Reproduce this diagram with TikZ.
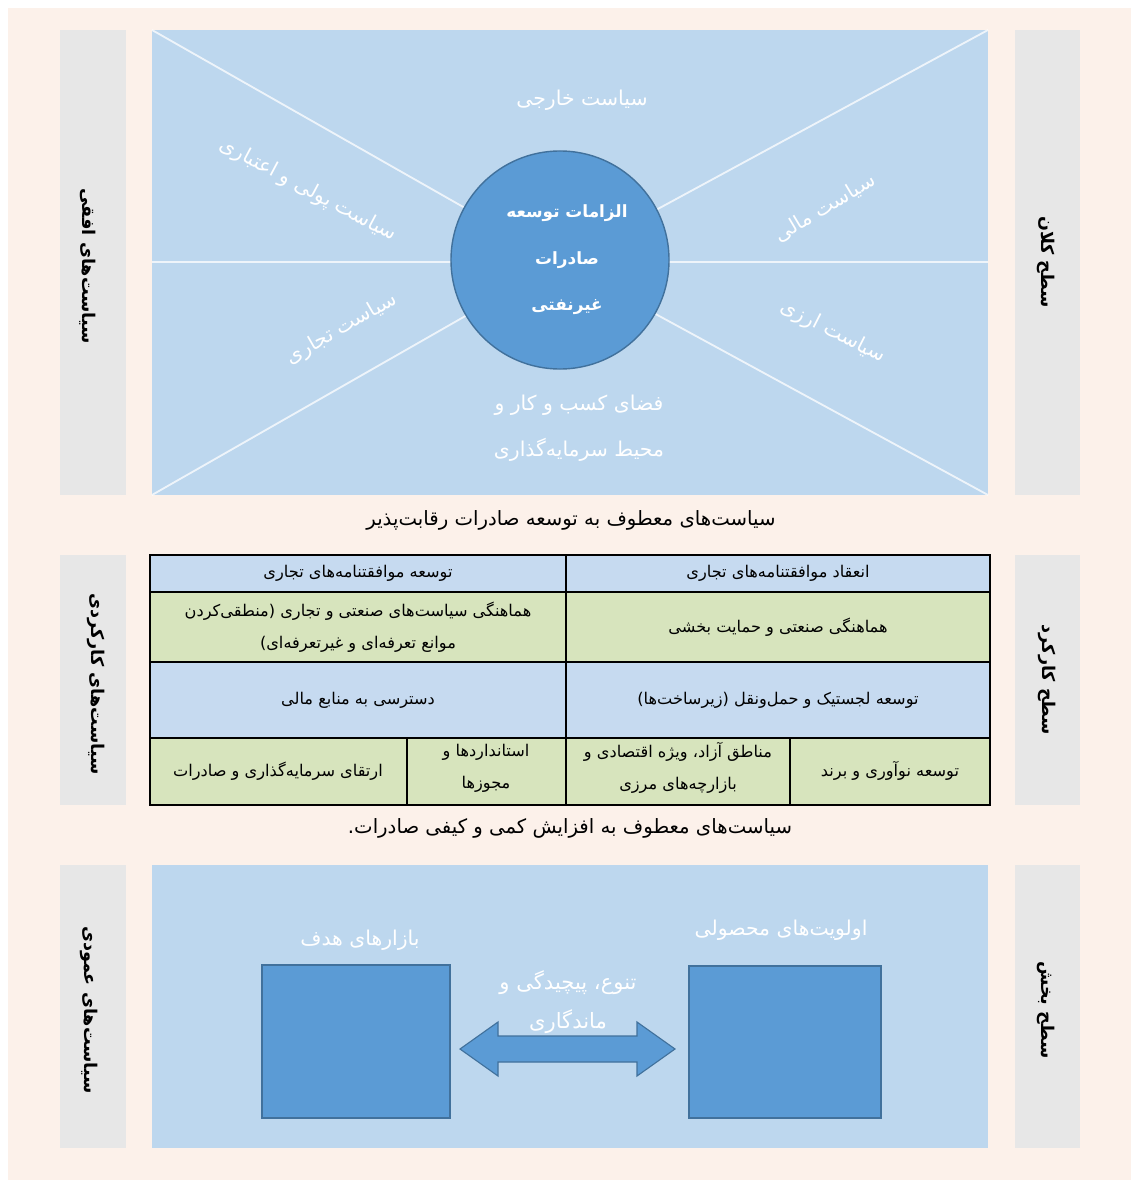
\documentclass[tikz,border=0pt]{standalone}
\usepackage{fontspec}
\newfontfamily\fa[Script=Arabic]{DejaVu Sans}
\TeXXeTstate=1
\usepackage{tikz}
\usetikzlibrary{positioning}
\definecolor{pagebg}{HTML}{FCF1EA}
\definecolor{greybar}{HTML}{E7E7E7}
\definecolor{panel}{HTML}{BDD7EE}
\definecolor{circblue}{HTML}{5B9BD5}
\definecolor{circedge}{HTML}{41719C}
\definecolor{tblue}{HTML}{C6DAF0}
\definecolor{tgreen}{HTML}{D7E4BD}

\begin{document}
\begin{tikzpicture}[x=0.025cm,y=-0.025cm, every node/.style={font=\fa},
  sidetxt/.style={rotate=-90, font=\fa\bfseries\fontsize{12.5}{14}\selectfont},
  ray/.style={white, line width=1.3pt, opacity=0.75},
  pol/.style={text=white, align=center, font=\fa\fontsize{14.5}{33}\selectfont},
  celltxt/.style={align=center, font=\fa\fontsize{11.5}{23}\selectfont},
  captxt/.style={font=\fa\fontsize{14}{16}\selectfont},
  bluebox/.style={draw=circedge, fill=circblue, line width=1pt, inner sep=0pt}]
  \useasboundingbox (0,0) rectangle (1139,1188);
  \fill[white] (0,0) rectangle (1139,1188);
  \fill[pagebg] (8,8) rectangle (1131,1180);

  % macro level
  \fill[greybar] (60,30) rectangle (126,495);
  \fill[greybar] (1015,30) rectangle (1080,495);
  \fill[panel] (152,30) rectangle (988,495);
  \coordinate (tl) at (152,30);
  \coordinate (tr) at (988,30);
  \coordinate (bl) at (152,495);
  \coordinate (br) at (988,495);
  \coordinate (ml) at (152,262);
  \coordinate (mr) at (988,262);
  \coordinate (mid) at (560,262);
  \draw[ray] (tl) -- (mid) -- (br);
  \draw[ray] (tr) -- (mid) -- (bl);
  \draw[ray] (ml) -- (mr);
  \node[bluebox, circle, minimum size=5.45cm] (core) at (560,260) {};
  \node[pol, font=\fa\bfseries\fontsize{12}{33}\selectfont] (coretxt) at (567,260)
    {\beginR الزامات توسعه\endR\\\beginR صادرات\endR\\\beginR غیرنفتی\endR};
  \node[pol] (foreign) at (582,100) {\beginR سیاست خارجی\endR};
  \node[pol, rotate=-28] (money) at (308,190) {\beginR سیاست پولی و اعتباری\endR};
  \node[pol, rotate=31] (fiscal) at (825,208) {\beginR سیاست مالی\endR};
  \node[pol, rotate=30] (trade) at (342,329) {\beginR سیاست تجاری\endR};
  \node[pol, rotate=-27] (currency) at (833,332) {\beginR سیاست ارزی\endR};
  \node[pol] (business) at (579,428)
    {\beginR فضای کسب و کار و\endR\\\beginR محیط سرمایه^^^^200cگذاری\endR};
  \node[sidetxt] (sideH) at (88,266) {\beginR سیاست^^^^200cهای افقی\endR};
  \node[sidetxt] (levM) at (1046,262) {\beginR سطح کلان\endR};
  \node[captxt] (cap1) at (571,520)
    {\beginR سیاست^^^^200cهای معطوف به توسعه صادرات رقابت^^^^200cپذیر\endR};

  % functional level
  \fill[greybar] (60,555) rectangle (126,805);
  \fill[greybar] (1015,555) rectangle (1080,805);
  \fill[tblue] (150,555) rectangle (990,592);
  \fill[tgreen] (150,592) rectangle (990,662);
  \fill[tblue] (150,662) rectangle (990,738);
  \fill[tgreen] (150,738) rectangle (990,805);
  \draw[line width=1.2pt] (150,555) rectangle (990,805);
  \draw[line width=1.2pt] (150,592) -- (990,592) (150,662) -- (990,662)
    (150,738) -- (990,738) (566,555) -- (566,805)
    (407,738) -- (407,805) (790,738) -- (790,805);
  \node[celltxt] (hL) at (358,573) {\beginR توسعه موافقتنامه^^^^200cهای تجاری\endR};
  \node[celltxt] (hR) at (778,573) {\beginR انعقاد موافقتنامه^^^^200cهای تجاری\endR};
  \node[celltxt] (coordL) at (358,627)
    {\beginR هماهنگی سیاست^^^^200cهای صنعتی و تجاری (منطقی^^^^200cکردن\endR\\\beginR موانع تعرفه^^^^200cای و غیرتعرفه^^^^200cای)\endR};
  \node[celltxt] (coordR) at (778,627) {\beginR هماهنگی صنعتی و حمایت بخشی\endR};
  \node[celltxt] (finance) at (358,700) {\beginR دسترسی به منابع مالی\endR};
  \node[celltxt] (logist) at (778,700) {\beginR توسعه لجستیک و حمل^^^^200cونقل (زیرساخت^^^^200cها)\endR};
  \node[celltxt] (invest) at (278,771) {\beginR ارتقای سرمایه^^^^200cگذاری و صادرات\endR};
  \node[celltxt] (stand) at (486,768) {\beginR استانداردها و\endR\\\beginR مجوزها\endR};
  \node[celltxt] (zones) at (678,768)
    {\beginR مناطق آزاد، ویژه اقتصادی و\endR\\\beginR بازارچه^^^^200cهای مرزی\endR};
  \node[celltxt] (brand) at (890,771) {\beginR توسعه نوآوری و برند\endR};
  \node[sidetxt] (sideF) at (96,684) {\beginR سیاست^^^^200cهای کارکردی\endR};
  \node[sidetxt] (levF) at (1047,680) {\beginR سطح کارکرد\endR};
  \node[captxt] (cap2) at (570,828)
    {\beginR سیاست^^^^200cهای معطوف به افزایش کمی و کیفی صادرات.\endR};

  % sector level
  \fill[greybar] (60,865) rectangle (126,1148);
  \fill[greybar] (1015,865) rectangle (1080,1148);
  \fill[panel] (152,865) rectangle (988,1148);
  \node[bluebox, minimum width=4.7cm, minimum height=3.825cm] (mkt) at (356,1041.5) {};
  \node[bluebox, minimum width=4.8cm, minimum height=3.8cm] (prd) at (785,1042) {};
  \draw[draw=circedge, fill=circblue, line width=0.8pt] (460,1049) -- (498,1022) -- (498,1036)
    -- (637,1036) -- (637,1022) -- (675,1049) -- (637,1076) -- (637,1062)
    -- (498,1062) -- (498,1076) -- cycle;
  \node[pol] (mktlbl) at (360,940) {\beginR بازارهای هدف\endR};
  \node[pol] (prdlbl) at (781,930) {\beginR اولویت^^^^200cهای محصولی\endR};
  \node[pol, font=\fa\fontsize{15}{28}\selectfont] (divers) at (568,1002)
    {\beginR تنوع، پیچیدگی و\endR\\\beginR ماندگاری\endR};
  \node[sidetxt] (sideV) at (89,1010) {\beginR سیاست^^^^200cهای عمودی\endR};
  \node[sidetxt] (levS) at (1046,1010) {\beginR سطح بخش\endR};
\end{tikzpicture}
\end{document}
